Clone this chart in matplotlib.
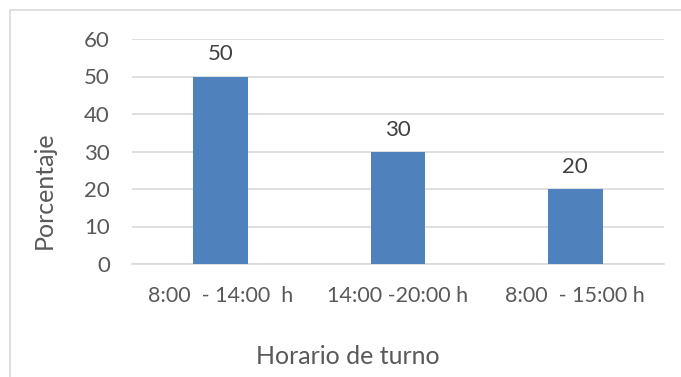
import matplotlib
matplotlib.use("Agg")
import matplotlib.pyplot as plt
from matplotlib.patches import Rectangle

categories = ["8:00  - 14:00  h", "14:00 -20:00 h", "8:00  - 15:00 h"]
values = [50, 30, 20]
yticks = [0, 10, 20, 30, 40, 50, 60]

plt.rcParams["font.family"] = ["Lato", "DejaVu Sans"]
text_color = "#404040"
tick_color = "#595959"
grid_color = "#D9D9D9"
bar_color = "#4F81BD"

fig = plt.figure(figsize=(6.81, 3.77), dpi=100)
# chart-area frame (runs off the right and bottom edges)
fig.patches.append(Rectangle((10 / 681, -0.1), 1.2, (377 - 10) / 377 + 0.1,
                             transform=fig.transFigure, fill=False,
                             edgecolor=grid_color, linewidth=1.2))
ax = fig.add_axes([132 / 681, 1 - 264 / 377, (664 - 132) / 681, (264 - 39) / 377])

x = range(len(categories))
ax.bar(x, values, width=0.31, color=bar_color, zorder=3)
for xi, v in zip(x, values):
    ax.text(xi, v + 3.2, str(v), ha="center", va="bottom", fontsize=16, color=text_color)

ax.set_xlim(-0.5, len(categories) - 0.5)
ax.set_ylim(0, 60)
ax.set_yticks(yticks)
ax.set_xticks(list(x))
ax.set_xticklabels(categories)
ax.grid(axis="y", color=grid_color, linewidth=1.2, zorder=0)
for side in ["top", "right", "left"]:
    ax.spines[side].set_visible(False)
ax.spines["bottom"].set_color(grid_color)
ax.spines["bottom"].set_linewidth(1.2)
ax.tick_params(axis="both", length=0, colors=tick_color)
ax.tick_params(axis="x", pad=16, labelsize=15.5)
ax.tick_params(axis="y", pad=16, labelsize=16)

fig.text(44 / 681, 1 - 190 / 377, "Porcentaje", rotation=90, ha="center", va="center",
         fontsize=18, color=tick_color)
fig.text(348 / 681, 1 - 357 / 377, "Horario de turno", ha="center", va="center",
         fontsize=18, color=tick_color)

fig.savefig("out.png", dpi=100)
